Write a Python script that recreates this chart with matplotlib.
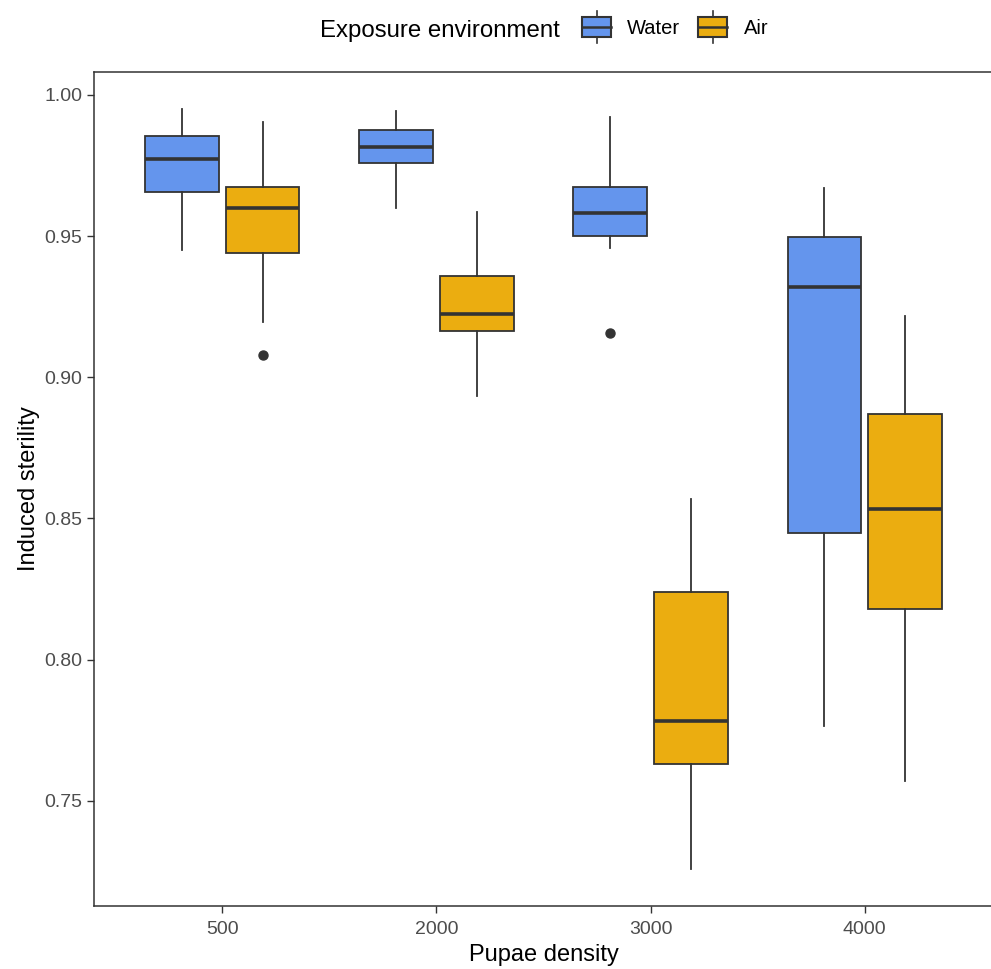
import matplotlib
matplotlib.use("Agg")
import matplotlib.pyplot as plt
from matplotlib.legend_handler import HandlerBase
from matplotlib.patches import Rectangle
from matplotlib.lines import Line2D

plt.rcParams['font.family'] = ['Liberation Sans', 'DejaVu Sans']

categories = ["500", "2000", "3000", "4000"]
groups = ["Water", "Air"]
colors = {"Water": "#6495ED", "Air": "#EBAD10"}

# five-number summaries: (whislo, q1, med, q3, whishi)
water_stats = [
    (0.9452, 0.9656, 0.9773, 0.9853, 0.9950),
    (0.9601, 0.9757, 0.9814, 0.9876, 0.9944),
    (0.9457, 0.9501, 0.9581, 0.9675, 0.9921),
    (0.7766, 0.8448, 0.9319, 0.9497, 0.9670),
]
air_stats = [
    (0.9196, 0.9441, 0.9600, 0.9675, 0.9903),
    (0.8935, 0.9162, 0.9225, 0.9358, 0.9586),
    (0.7259, 0.7631, 0.7784, 0.8238, 0.8568),
    (0.7570, 0.8180, 0.8533, 0.8871, 0.9217),
]
water_outliers = [[], [], [0.9156], []]
air_outliers = [[0.9079], [], [], []]

edge = "#333333"

fig = plt.figure(figsize=(9.91, 9.69), dpi=100)
ax = fig.add_axes([94/991, 1-906/969, (993-94)/991, (906-72)/969])

def make_stats(stats, outs):
    res = []
    for (lo, q1, med, q3, hi), fl in zip(stats, outs):
        res.append(dict(whislo=lo, q1=q1, med=med, q3=q3, whishi=hi, fliers=fl))
    return res

offset = 0.1875
bw = 0.345
for g, stats, outs, sgn in [("Water", water_stats, water_outliers, -1),
                            ("Air", air_stats, air_outliers, 1)]:
    pos = [i + 1 + sgn*offset for i in range(len(categories))]
    ax.bxp(make_stats(stats, outs), positions=pos, widths=bw, patch_artist=True,
           showcaps=False,
           boxprops=dict(facecolor=colors[g], edgecolor=edge, linewidth=1.3),
           medianprops=dict(color=edge, linewidth=2.6, solid_capstyle='butt'),
           whiskerprops=dict(color=edge, linewidth=1.3),
           flierprops=dict(marker='o', markerfacecolor=edge, markeredgecolor=edge,
                           markersize=6.5), manage_ticks=False)

ax.set_xlim(0.4, 4.6)
ax.set_ylim(0.7127, 1.0081)
ax.set_xticks(range(1, len(categories)+1))
ax.set_xticklabels(categories)
ax.set_yticks([0.75, 0.80, 0.85, 0.90, 0.95, 1.00])
ax.set_yticklabels(["0.75", "0.80", "0.85", "0.90", "0.95", "1.00"])
ax.tick_params(axis='both', colors="#333333", labelcolor="#4D4D4D", labelsize=14,
               length=5, width=1)
ax.tick_params(axis='x', pad=6)
for s in ax.spines.values():
    s.set_color("#333333")
    s.set_linewidth(1.1)
ax.spines['right'].set_visible(False)
ax.set_xlabel("Pupae density", fontsize=17, color="black", labelpad=4)
ax.set_ylabel("Induced sterility", fontsize=17, color="black", labelpad=3)


class BoxHandler(HandlerBase):
    def create_artists(self, legend, orig_handle, xdescent, ydescent, width,
                       height, fontsize, trans):
        fc = orig_handle.get_facecolor()
        x0 = -xdescent
        y0 = -ydescent
        h = height
        r = Rectangle((x0, y0 - 0.05*h), width, 1.1*h, facecolor=fc,
                      edgecolor=edge, linewidth=1.5, transform=trans)
        m = Line2D([x0, x0+width], [y0+h/2, y0+h/2], color=edge, lw=1.8,
                   transform=trans)
        w1 = Line2D([x0+width/2]*2, [y0+1.05*h, y0+1.4*h], color=edge, lw=1.2,
                    transform=trans)
        w2 = Line2D([x0+width/2]*2, [y0-0.05*h, y0-0.4*h], color=edge, lw=1.2,
                    transform=trans)
        return [r, m, w1, w2]


handles = [Rectangle((0, 0), 1, 1, facecolor=colors[g]) for g in groups]
fig.text(320/991, 1-31/969, "Exposure environment", fontsize=17.3,
         ha='left', va='center')
fig.legend(handles, groups, handler_map={Rectangle: BoxHandler()},
           loc='center left', bbox_to_anchor=(582/991, 1-28/969), ncol=2,
           frameon=False, fontsize=14.5, handlelength=1.44, handleheight=1.0,
           columnspacing=0.9, handletextpad=0.8, borderpad=0, borderaxespad=0)

fig.savefig("out.png", dpi=100)
